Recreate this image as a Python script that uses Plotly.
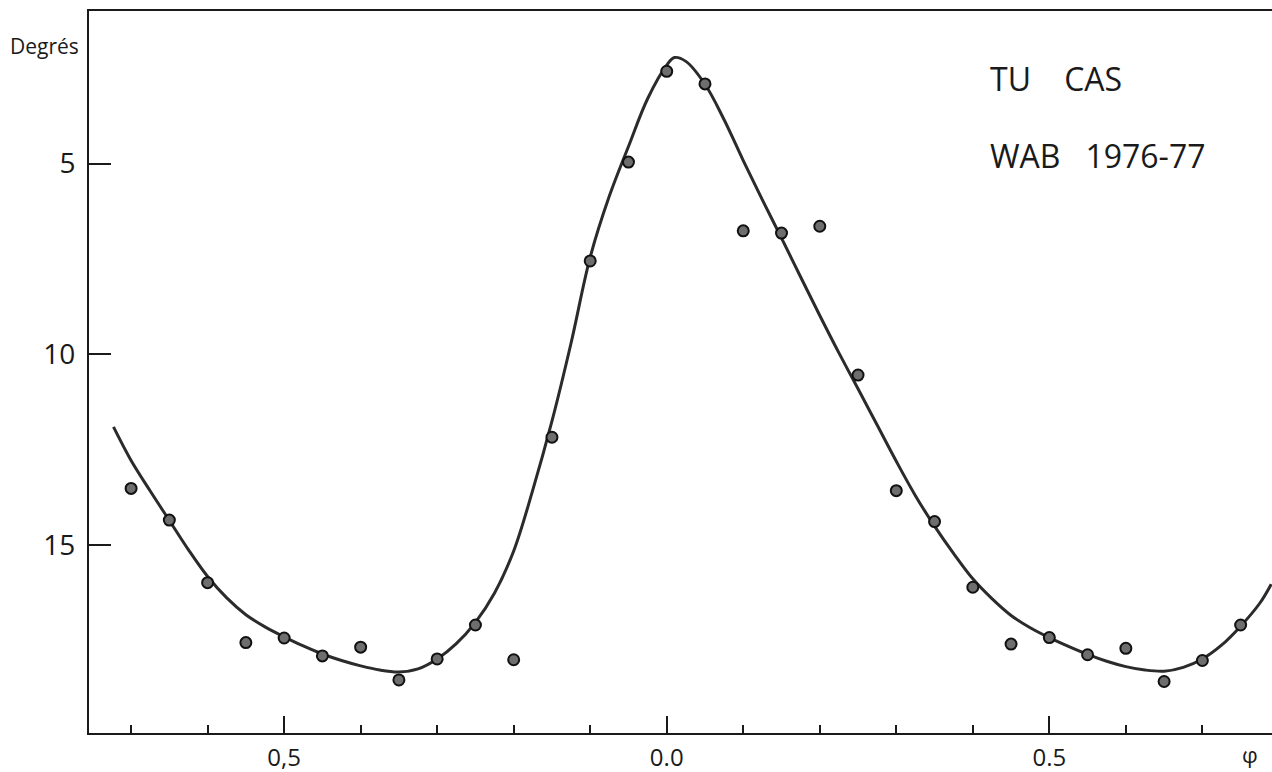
import plotly.graph_objects as go

# Observed points (phase, degrees)
obs_phase = [-0.70, -0.65, -0.60, -0.55, -0.50, -0.45, -0.40, -0.35, -0.30, -0.25,
             -0.20, -0.15, -0.10, -0.05, 0.00, 0.05, 0.10, 0.15, 0.20, 0.25,
             0.30, 0.35, 0.40, 0.45, 0.50, 0.55, 0.60, 0.65, 0.70, 0.75]
obs_deg = [13.51, 14.34, 15.98, 17.55, 17.43, 17.90, 17.67, 18.53, 17.98, 17.09,
           18.00, 12.17, 7.55, 4.96, 2.58, 2.91, 6.76, 6.82, 6.64, 10.54,
           13.57, 14.38, 16.10, 17.59, 17.42, 17.87, 17.70, 18.57, 18.02, 17.09]

# Smooth fitted curve
curve_phase = [-0.723, -0.70, -0.675, -0.65, -0.625, -0.60, -0.575, -0.55, -0.525, -0.50,
               -0.475, -0.45, -0.425, -0.40, -0.375, -0.35, -0.325, -0.30, -0.275, -0.25,
               -0.225, -0.20, -0.175, -0.15, -0.125, -0.10, -0.075, -0.05, -0.025, 0.00,
               0.01, 0.025, 0.05, 0.075, 0.10, 0.125, 0.15, 0.175, 0.20, 0.225,
               0.25, 0.275, 0.30, 0.325, 0.35, 0.375, 0.40, 0.425, 0.45, 0.475,
               0.50, 0.525, 0.55, 0.575, 0.60, 0.625, 0.65, 0.675, 0.70, 0.725,
               0.75, 0.775, 0.79]
curve_deg = [11.90, 12.78, 13.58, 14.35, 15.12, 15.82, 16.38, 16.82, 17.14, 17.40,
             17.64, 17.85, 18.02, 18.16, 18.27, 18.32, 18.24, 17.98, 17.58, 17.02,
             16.25, 15.15, 13.55, 11.75, 9.70, 7.45, 5.85, 4.55, 3.30, 2.42,
             2.22, 2.32, 2.92, 3.85, 4.92, 5.95, 6.95, 7.97, 8.98, 9.96,
             10.90, 11.85, 12.80, 13.70, 14.50, 15.22, 15.88, 16.40, 16.84, 17.16,
             17.42, 17.65, 17.86, 18.04, 18.18, 18.27, 18.30, 18.20, 17.98, 17.62,
             17.12, 16.52, 16.02]

x_major_vals = [-0.5, 0.0, 0.5]
x_major_text = ["0,5", "0.0", "0.5"]
x_minor_vals = [-0.7, -0.6, -0.4, -0.3, -0.2, -0.1, 0.1, 0.2, 0.3, 0.4, 0.6, 0.7]
y_tick_vals = [5, 10, 15]
y_tick_text = ["5", "10", "15"]

ink = "#1a1a1a"
font_family = "Open Sans, DejaVu Sans, sans-serif"

fig = go.Figure()
fig.add_trace(go.Scatter(
    x=curve_phase, y=curve_deg, mode="lines",
    line=dict(color="#2b2b2b", width=3, shape="spline", smoothing=1.0),
    hoverinfo="skip", showlegend=False))
fig.add_trace(go.Scatter(
    x=obs_phase, y=obs_deg, mode="markers",
    marker=dict(symbol="circle", size=11, color="#6e6e6e",
                line=dict(color="#111111", width=2)),
    showlegend=False))

fig.update_layout(
    width=1272, height=772,
    margin=dict(l=89, r=0, t=11, b=39, autoexpand=False),
    paper_bgcolor="white", plot_bgcolor="white",
    font=dict(family=font_family, color=ink),
    xaxis=dict(
        range=[-0.755, 0.791], showgrid=False, zeroline=False, automargin=False,
        showline=True, linecolor=ink, linewidth=2, mirror=True,
        tickmode="array", tickvals=x_major_vals, ticktext=x_major_text,
        ticks="inside", ticklen=17, tickwidth=2, tickcolor=ink,
        tickfont=dict(size=24, color=ink, family=font_family),
        ticklabelstandoff=2,
        minor=dict(tickmode="array", tickvals=x_minor_vals, ticks="inside",
                   ticklen=8, tickwidth=2, tickcolor=ink, showgrid=False),
    ),
    yaxis=dict(
        range=[19.92, 1.0], showgrid=False, zeroline=False, automargin=False,
        showline=True, linecolor=ink, linewidth=2, mirror=False,
        tickmode="array", tickvals=y_tick_vals, ticktext=y_tick_text,
        ticks="inside", ticklen=22, tickwidth=2, tickcolor=ink,
        tickfont=dict(size=28, color=ink, family=font_family),
        ticklabelstandoff=6,
    ),
)

fig.add_annotation(text="Degrés", xref="paper", yref="paper", x=-0.0375, y=(733 - 46) / 722,
                   xanchor="center", yanchor="middle", showarrow=False,
                   font=dict(size=21, color=ink, family=font_family))
fig.add_annotation(text="TU&nbsp;&nbsp;&nbsp;&nbsp;CAS", xref="paper", yref="paper",
                   x=(988 - 89) / 1183, y=(733 - 79) / 722,
                   xanchor="left", yanchor="middle", showarrow=False,
                   font=dict(size=32, color=ink, family=font_family))
fig.add_annotation(text="WAB&nbsp;&nbsp;&nbsp;1976-77", xref="paper", yref="paper",
                   x=(988 - 89) / 1183, y=(733 - 155) / 722,
                   xanchor="left", yanchor="middle", showarrow=False,
                   font=dict(size=32, color=ink, family=font_family))
fig.add_annotation(text="φ", xref="paper", yref="paper",
                   x=(1250 - 89) / 1183, y=(733 - 754) / 722,
                   xanchor="center", yanchor="middle", showarrow=False,
                   font=dict(size=22, color=ink, family=font_family))

fig.write_html(
    "out.html",
    config={"displayModeBar": False},
    post_script="document.documentElement.style.margin='0';"
                "document.body.style.margin='0';document.body.style.padding='0';"
                "document.body.style.overflow='hidden';",
)
